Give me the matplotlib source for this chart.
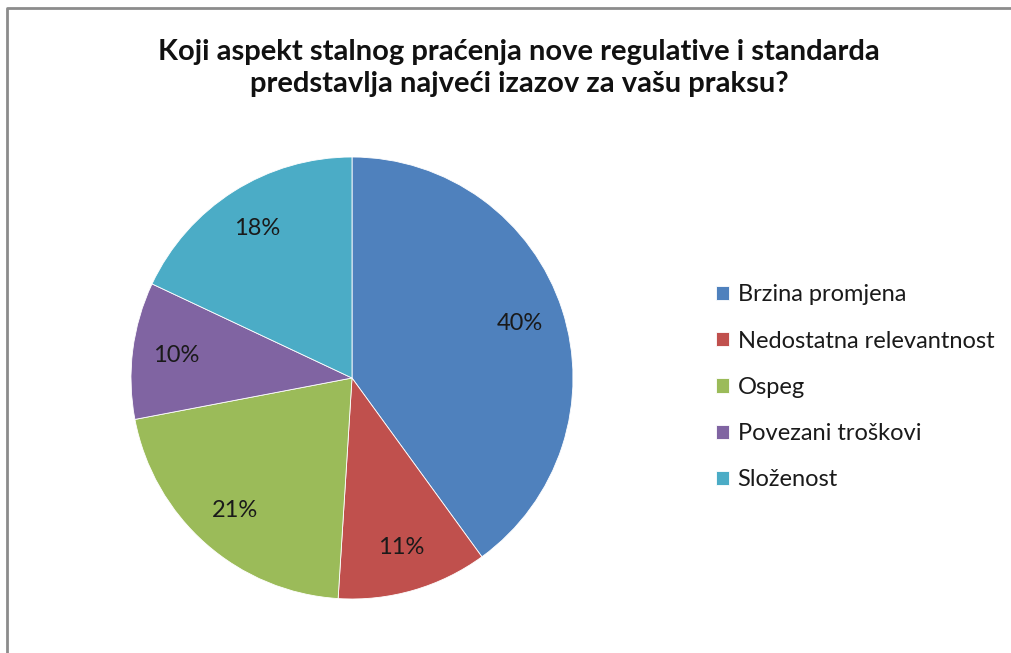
import matplotlib.pyplot as plt
from matplotlib.lines import Line2D

plt.rcParams['font.family'] = ['Lato', 'DejaVu Sans']

title = "Koji aspekt stalnog praćenja nove regulative i standarda\npredstavlja najveći izazov za vašu praksu?"
categories = ["Brzina promjena", "Nedostatna relevantnost", "Ospeg",
              "Povezani troškovi", "Složenost"]
values = [40, 11, 21, 10, 18]
colors = ["#4F81BD", "#C0504D", "#9BBB59", "#8064A2", "#4BACC6"]

W, H = 1012, 653
fig = plt.figure(figsize=(W / 100, H / 100), dpi=100)

# chart frame (only left and top edges visible)
fx, fy = 7.5 / W, 1 - 8 / H
fig.add_artist(Line2D([fx, fx, 1.0], [0.0, fy, fy], transform=fig.transFigure,
                      color="#8c8c8c", linewidth=2))

ax = fig.add_axes([131 / W, 54 / H, 442 / W, 442 / H])
wedges, texts, autotexts = ax.pie(
    values, colors=colors, startangle=90, counterclock=False, radius=1,
    autopct="%d%%", pctdistance=0.8,
    wedgeprops=dict(edgecolor="white", linewidth=0.6),
    textprops=dict(fontsize=17, color="#1a1a1a"))
ax.set_xlim(-1, 1)
ax.set_ylim(-1, 1)
ax.set_aspect("equal")

fig.text(519 / W, 1 - 68 / H, title, ha="center", va="center",
         fontsize=21, fontweight="bold", color="#111111", linespacing=1.25)

leg = fig.legend(wedges, categories, loc="upper left",
                 bbox_to_anchor=(695 / W, 1 - 263 / H), frameon=False,
                 fontsize=17, handlelength=0.55, handleheight=0.55,
                 handletextpad=0.35, labelspacing=1.07)
for t in leg.get_texts():
    t.set_color("#1a1a1a")

fig.savefig("out.png", dpi=100)
